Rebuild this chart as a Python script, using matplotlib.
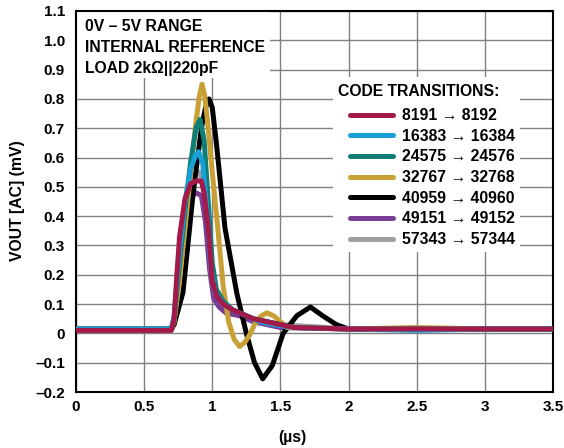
import matplotlib
matplotlib.use("Agg")
import matplotlib.pyplot as plt
from matplotlib.patches import Rectangle

plt.rcParams["font.family"] = ["Liberation Sans", "DejaVu Sans"]
plt.rcParams["font.weight"] = "bold"

# code transitions (x in us, y in mV)
labels = ["8191 \u2192 8192", "16383 \u2192 16384", "24575 \u2192 24576",
          "32767 \u2192 32768", "40959 \u2192 40960", "49151 \u2192 49152",
          "57343 \u2192 57344"]
colors = ["#A3194A", "#1AA0D6", "#0E7E76", "#C9A035", "#000000", "#7A3D96", "#A0A0A0"]

red_x = [0, 0.70, 0.72, 0.74, 0.76, 0.80, 0.84, 0.88, 0.92, 0.94, 0.97, 1.00, 1.03, 1.08,
         1.15, 1.20, 1.30, 1.40, 1.50, 1.60, 2.0, 2.5, 3.0, 3.5]
red_y = [0.01, 0.01, 0.05, 0.20, 0.33, 0.46, 0.51, 0.52, 0.52, 0.48, 0.36, 0.18, 0.13, 0.10,
         0.08, 0.07, 0.05, 0.04, 0.03, 0.02, 0.015, 0.015, 0.015, 0.015]

blue_x = [0, 0.70, 0.72, 0.76, 0.80, 0.84, 0.88, 0.90, 0.93, 0.96, 0.99, 1.02, 1.08, 1.15,
          1.25, 1.35, 1.45, 1.60, 2.0, 2.5, 3.0, 3.5]
blue_y = [0.015, 0.015, 0.06, 0.28, 0.45, 0.56, 0.61, 0.62, 0.58, 0.42, 0.22, 0.14, 0.10, 0.08,
          0.06, 0.04, 0.03, 0.02, 0.015, 0.01, 0.015, 0.015]

teal_x = [0, 0.70, 0.72, 0.76, 0.80, 0.84, 0.88, 0.91, 0.94, 0.97, 1.00, 1.03, 1.08, 1.15,
          1.20, 1.25, 1.30, 1.40, 1.50, 1.60, 2.0, 2.5, 3.0, 3.5]
teal_y = [0.015, 0.015, 0.05, 0.24, 0.42, 0.58, 0.70, 0.73, 0.66, 0.45, 0.24, 0.15, 0.11, 0.08,
          0.07, 0.06, 0.05, 0.04, 0.03, 0.02, 0.015, 0.015, 0.015, 0.015]

gold_x = [0, 0.70, 0.72, 0.76, 0.80, 0.84, 0.88, 0.905, 0.925, 0.945, 0.97, 1.00, 1.04, 1.08,
          1.12, 1.16, 1.20, 1.24, 1.28, 1.32, 1.36, 1.40, 1.45, 1.50, 1.55, 1.7, 2.0, 2.5,
          3.0, 3.5]
gold_y = [0.015, 0.015, 0.04, 0.18, 0.36, 0.54, 0.72, 0.81, 0.85, 0.81, 0.70, 0.55, 0.36, 0.16,
          0.04, -0.02, -0.045, -0.03, 0.0, 0.04, 0.06, 0.07, 0.06, 0.04, 0.02, 0.02, 0.015,
          0.02, 0.015, 0.015]

black_x = [0, 0.70, 0.72, 0.785, 0.86, 0.92, 0.95, 0.976, 1.00, 1.03, 1.093, 1.18, 1.25, 1.31,
           1.37, 1.44, 1.52, 1.62, 1.72, 1.81, 1.91, 2.0, 2.5, 3.0, 3.5]
black_y = [0.015, 0.015, 0.03, 0.14, 0.48, 0.70, 0.77, 0.80, 0.77, 0.65, 0.36, 0.137, 0.0,
           -0.10, -0.155, -0.11, 0.0, 0.06, 0.09, 0.06, 0.03, 0.015, 0.015, 0.015, 0.015]

purple_x = [0, 0.70, 0.72, 0.76, 0.80, 0.84, 0.88, 0.92, 0.95, 0.98, 1.01, 1.05, 1.10, 1.20,
            1.30, 1.40, 1.50, 2.0, 2.5, 3.0, 3.5]
purple_y = [0.015, 0.015, 0.04, 0.24, 0.40, 0.46, 0.48, 0.47, 0.38, 0.22, 0.12, 0.09, 0.07, 0.06,
            0.04, 0.03, 0.02, 0.015, 0.015, 0.015, 0.015]

gray_x = [0, 0.70, 0.72, 0.76, 0.80, 0.84, 0.88, 0.91, 0.94, 0.97, 1.00, 1.04, 1.10, 1.20,
          1.30, 1.40, 1.50, 2.0, 2.5, 3.0, 3.5]
gray_y = [0.015, 0.015, 0.05, 0.25, 0.42, 0.50, 0.55, 0.55, 0.48, 0.33, 0.18, 0.12, 0.09, 0.07,
          0.05, 0.04, 0.03, 0.015, 0.015, 0.015, 0.015]

series = [(red_x, red_y), (blue_x, blue_y), (teal_x, teal_y), (gold_x, gold_y),
          (black_x, black_y), (purple_x, purple_y), (gray_x, gray_y)]

fs = 11.3

fig = plt.figure(figsize=(5.64, 4.48), dpi=100)
ax = fig.add_axes([76 / 564, 1 - 392 / 448, 477 / 564, 381 / 448])

ax.set_xlim(0, 3.5)
ax.set_ylim(-0.2, 1.1)
ax.set_xticks([0, 0.5, 1, 1.5, 2, 2.5, 3, 3.5])
ax.set_xticklabels(["0", "0.5", "1", "1.5", "2", "2.5", "3", "3.5"])
yt = [-0.2, -0.1, 0, 0.1, 0.2, 0.3, 0.4, 0.5, 0.6, 0.7, 0.8, 0.9, 1.0, 1.1]
ax.set_yticks(yt)
ax.set_yticklabels(["\u20130.2", "\u20130.1", "0"] + [f"{v:.1f}" for v in yt[3:]])
ax.tick_params(length=0, labelsize=11)
ax.tick_params(axis="y", pad=8)
ax.tick_params(axis="x", pad=6)
ax.grid(True, color="#808080", lw=1)
ax.set_axisbelow(True)
for s in ax.spines.values():
    s.set_linewidth(1.5)

# white boxes behind the conditions text and the legend
ax.add_patch(Rectangle((0, 0.872), 1.42, 0.228, facecolor="white", edgecolor="none", zorder=1))
ax.add_patch(Rectangle((1.885, 0.277), 1.375, 0.598, facecolor="white", edgecolor="none",
                       zorder=1))

# draw back to front, red on top
handles = [None] * len(series)
for i in range(len(series) - 1, -1, -1):
    x, y = series[i]
    handles[i], = ax.plot(x, y, color=colors[i], lw=3.6, zorder=3 + len(series) - i,
                          solid_capstyle="round", solid_joinstyle="round", label=labels[i])

for k, line in enumerate(["0V \u2013 5V RANGE", "INTERNAL REFERENCE", "LOAD 2k\u03a9||220pF"]):
    ax.text(0.065, 1.1 - (15 + 21.3 * k) / 293, line, fontsize=fs, fontweight="bold",
            va="center", ha="left", zorder=10)

ax.text(1.922, 0.827, "CODE TRANSITIONS:", fontsize=fs, fontweight="bold",
        va="center", ha="left", zorder=10)

leg = ax.legend(handles=handles, labels=labels, loc="upper left",
                bbox_to_anchor=(0.549, 0.778), frameon=False,
                prop={"size": fs, "weight": "bold"}, handlelength=2.7,
                handletextpad=0.6, labelspacing=0.36, borderpad=0.3)
leg.set_zorder(20)

fig.text(18 / 564, 1 - 201 / 448, "VOUT [AC] (mV)", rotation=90, fontsize=fs,
         fontweight="bold", ha="center", va="center")
fig.text(292 / 564, 1 - 437 / 448, "(\u00b5s)", fontsize=fs, fontweight="bold",
         ha="center", va="center")

fig.savefig("out.png", dpi=100)
